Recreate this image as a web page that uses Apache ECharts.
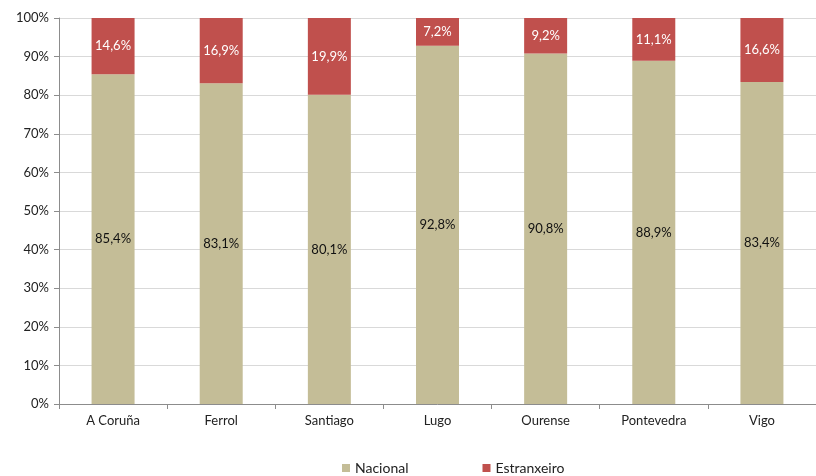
<!DOCTYPE html>
<html>
<head>
<meta charset="utf-8">
<script src="https://cdn.jsdelivr.net/npm/echarts@6/dist/echarts.min.js"></script>
<style>html,body{margin:0;padding:0;background:#fff}#c{width:816px;height:476px}</style>
</head>
<body>
<div id="c"></div>
<script>
const categories = ['A Coruña','Ferrol','Santiago','Lugo','Ourense','Pontevedra','Vigo'];
const nacional = [85.4, 83.1, 80.1, 92.8, 90.8, 88.9, 83.4];
const estranxeiro = [14.6, 16.9, 19.9, 7.2, 9.2, 11.1, 16.6];
const yTicks = [0,10,20,30,40,50,60,70,80,90,100];

const font = 'Lato, "Open Sans", sans-serif';
const fmt = v => v.toFixed(1).replace('.', ',') + '%';
const chart = echarts.init(document.getElementById('c'));
chart.setOption({
  animation: false,
  textStyle: {fontFamily: font},
  grid: {left: 59, top: 18, width: 760, height: 386, containLabel: false},
  legend: {
    top: 456, left: 337, icon: 'rect', itemWidth: 8, itemHeight: 8, itemGap: 74, padding: 5,
    textStyle: {fontFamily: font, fontSize: 14, color: '#222'},
    data: ['Nacional','Estranxeiro']
  },
  xAxis: {
    type: 'category', data: categories,
    axisLine: {lineStyle: {color: '#8c8c8c'}},
    axisTick: {show: true, length: 5, lineStyle: {color: '#8c8c8c'}},
    axisLabel: {color: '#222', fontSize: 13, fontFamily: font, margin: 10}
  },
  yAxis: {
    type: 'value', min: yTicks[0], max: yTicks[yTicks.length-1], interval: 10,
    axisLine: {show: true, lineStyle: {color: '#8c8c8c'}},
    axisTick: {show: true, length: 5, lineStyle: {color: '#8c8c8c'}},
    axisLabel: {color: '#222', fontSize: 13, fontFamily: font, formatter: v => v + '%', margin: 10},
    splitLine: {lineStyle: {color: '#d9d9d9'}}
  },
  series: [
    {
      name: 'Nacional', type: 'bar', stack: 't', data: nacional, barWidth: 43,
      itemStyle: {color: '#C4BD97'},
      label: {show: true, position: 'inside', color: '#111', fontSize: 13, fontFamily: font, formatter: p => fmt(p.value)}
    },
    {
      name: 'Estranxeiro', type: 'bar', stack: 't', data: estranxeiro, barWidth: 43,
      itemStyle: {color: '#C0504D'},
      label: {show: true, position: 'inside', color: '#fff', fontSize: 13, fontFamily: font, formatter: p => fmt(p.value)}
    }
  ]
});
</script>
</body>
</html>
